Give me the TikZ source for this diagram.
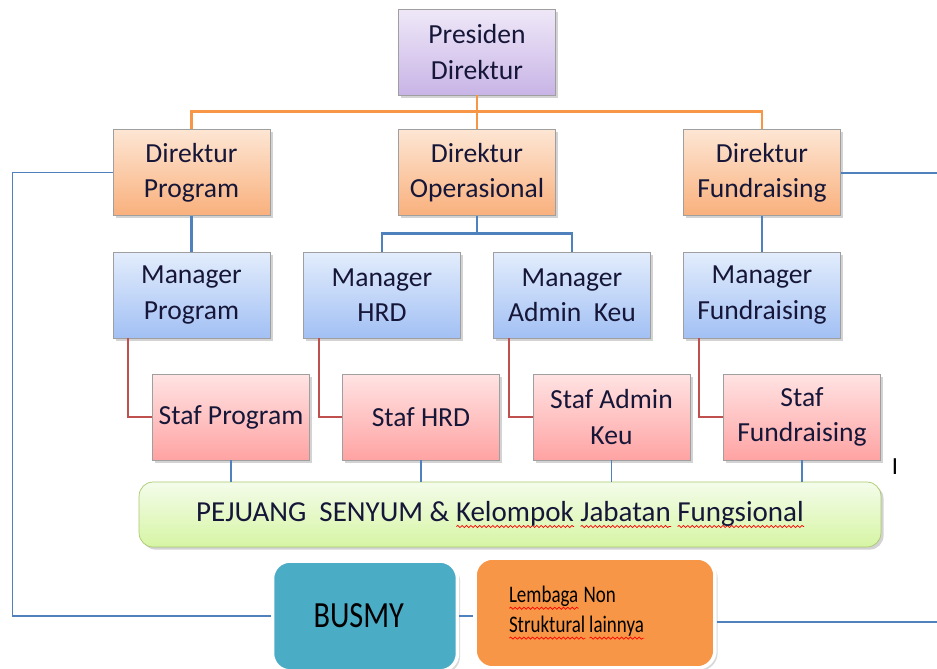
\documentclass[tikz,border=0pt]{standalone}
\usepackage{fontspec}
\setmainfont{Carlito}
\usetikzlibrary{shadows, decorations.pathmorphing}

\definecolor{presTop}{HTML}{EFE8F8}
\definecolor{presBot}{HTML}{C8B4E6}
\definecolor{dirTop}{HTML}{FDE6D4}
\definecolor{dirBot}{HTML}{F9B07C}
\definecolor{manTop}{HTML}{E3EDFC}
\definecolor{manBot}{HTML}{A2C0F4}
\definecolor{stafTop}{HTML}{FFE3E3}
\definecolor{stafBot}{HTML}{FFA3A3}
\definecolor{pejTop}{HTML}{F4FCEA}
\definecolor{pejBot}{HTML}{D6F5A4}
\definecolor{pejBorder}{HTML}{A9C96E}
\definecolor{orangeLine}{HTML}{F79646}
\definecolor{blueLine}{HTML}{4F81BD}
\definecolor{redLine}{HTML}{C0504D}
\definecolor{busmyFill}{HTML}{4BACC6}
\definecolor{lembFill}{HTML}{F79646}
\definecolor{textBlue}{HTML}{161638}

% red wavy underline (spell check marks)
\newsavebox\spellbox
\newcommand\spellerr[1]{\sbox\spellbox{#1}\leavevmode\rlap{%
    \tikz[x=1cm, y=1cm, baseline=0pt, sharp corners]
        \draw[red, line width=0.4pt, decorate, decoration={snake, amplitude=0.6pt, segment length=2.5pt}]
        (0pt,-3pt) -- (\the\wd\spellbox,-3pt);}\usebox\spellbox}

\tikzset{
    box/.style={draw=gray!75, minimum width=3.14cm, minimum height=1.72cm,
        align=center, font=\fontsize{15.7}{20}\selectfont, text=textBlue,
        drop shadow={opacity=0.35, shadow xshift=1.5pt, shadow yshift=-1.5pt}},
    presbox/.style={box, top color=presTop, bottom color=presBot},
    dirbox/.style={box, top color=dirTop, bottom color=dirBot},
    manbox/.style={box, top color=manTop, bottom color=manBot},
    stafbox/.style={box, top color=stafTop, bottom color=stafBot},
    pejbox/.style={draw=pejBorder, rounded corners=8pt, minimum width=14.84cm,
        minimum height=1.3cm, top color=pejTop, bottom color=pejBot,
        font=\fontsize{16.5}{18}\selectfont, text=textBlue,
        drop shadow={opacity=0.35, shadow xshift=1.5pt, shadow yshift=-1.5pt}},
    unitbox/.style={draw=white, line width=2pt, rounded corners=10pt, minimum height=2.2cm,
        text=black, drop shadow={opacity=0.3, shadow xshift=1.5pt, shadow yshift=-1.5pt}},
    orangeline/.style={orangeLine, line width=1.6pt},
    blueline/.style={blueLine, line width=1.6pt},
    redline/.style={redLine, line width=1.6pt},
    thinline/.style={blueLine, line width=0.6pt},
}

\begin{document}
\begin{tikzpicture}[x=0.02cm, y=-0.02cm]
    \useasboundingbox (0,0) rectangle (937,669);

    % Nodes
    \node[presbox] (PD) at (477, 52) {Presiden\\Direktur};
    \node[dirbox] (DP) at (191.5, 172.5) {Direktur\\Program};
    \node[dirbox] (DO) at (477, 172.5) {Direktur\\Operasional};
    \node[dirbox] (DF) at (762, 172.5) {Direktur\\Fundraising};
    \node[manbox] (MP) at (191.5, 295) {Manager\\Program};
    \node[manbox] (MH) at (382, 295) {Manager\\HRD};
    \node[manbox] (MA) at (572, 295) {Manager\\Admin\ \ Keu};
    \node[manbox] (MF) at (762, 295) {Manager\\Fundraising};
    \node[stafbox] (SP) at (231, 417) {Staf Program};
    \node[stafbox] (SH) at (421, 417) {Staf HRD};
    \node[stafbox] (SA) at (611.5, 417) {Staf Admin\\Keu};
    \node[stafbox] (SF) at (802, 417) {Staf\\Fundraising};
    \node[pejbox] (PJ) at (510, 514.5) {\hspace{-0.4cm}PEJUANG\ \ SENYUM \& \spellerr{Kelompok} \spellerr{Jabatan} \spellerr{Fungsional}};
    \node[unitbox, fill=busmyFill, minimum width=3.7cm,
        font=\fontsize{21}{24}\selectfont\addfontfeature{FakeStretch=0.82}] (BU) at (365, 616) {\hspace{-0.25cm}BUSMY};
    \node[unitbox, fill=lembFill, minimum width=4.8cm, text width=3.44cm, inner xsep=0.68cm,
        align=left, font=\fontsize{13.5}{17}\selectfont\addfontfeature{FakeStretch=0.8}] (LN) at (595, 613)
        {\raisebox{0pt}[0pt][0pt]{}\spellerr{Lembaga}\hspace{-1.5pt} Non\\\spellerr{Struktural}\,\spellerr{lainnya}\\[-4pt]};
    \node[font=\fontsize{14}{16}\selectfont] (cursor) at (895, 467) {I};

    \coordinate (edgeTop) at (937, 173);
    \coordinate (edgeBot) at (937, 622);

    % Connectors
    \draw[orangeline] (PD.south) -- ++(0,16) -| (DP.north);
    \draw[orangeline] (PD.south) -- ++(0,16) -| (DF.north);
    \draw[orangeline] (PD.south) -- (DO.north);
    \draw[blueline] (DP.south) -- (MP.north);
    \draw[blueline] (DO.south) -- ++(0,18) -| (MH.north);
    \draw[blueline] (DO.south) -- ++(0,18) -| (MA.north);
    \draw[blueline] (DF.south) -- (MF.north);
    \draw[redline] ([xshift=-1.27cm]MP.south) |- (SP.west);
    \draw[redline] ([xshift=-1.26cm]MH.south) |- (SH.west);
    \draw[redline] ([xshift=-1.26cm]MA.south) |- (SA.west);
    \draw[redline] ([xshift=-1.26cm]MF.south) |- (SF.west);
    \foreach \s in {SP, SH, SA, SF}
        \draw[thinline] (\s.south) -- (\s.south |- PJ.north);

    % Outer line
    \draw[thinline] (DP.west) -- ++(-100,0) |- (BU.west);
    \draw[thinline] (BU.east) -- (BU.east -| LN.west);
    \draw[thinline] (LN.east |- edgeBot) -- (edgeBot);
    \draw[thinline] (DF.east |- edgeTop) -- (edgeTop);
\end{tikzpicture}
\end{document}
